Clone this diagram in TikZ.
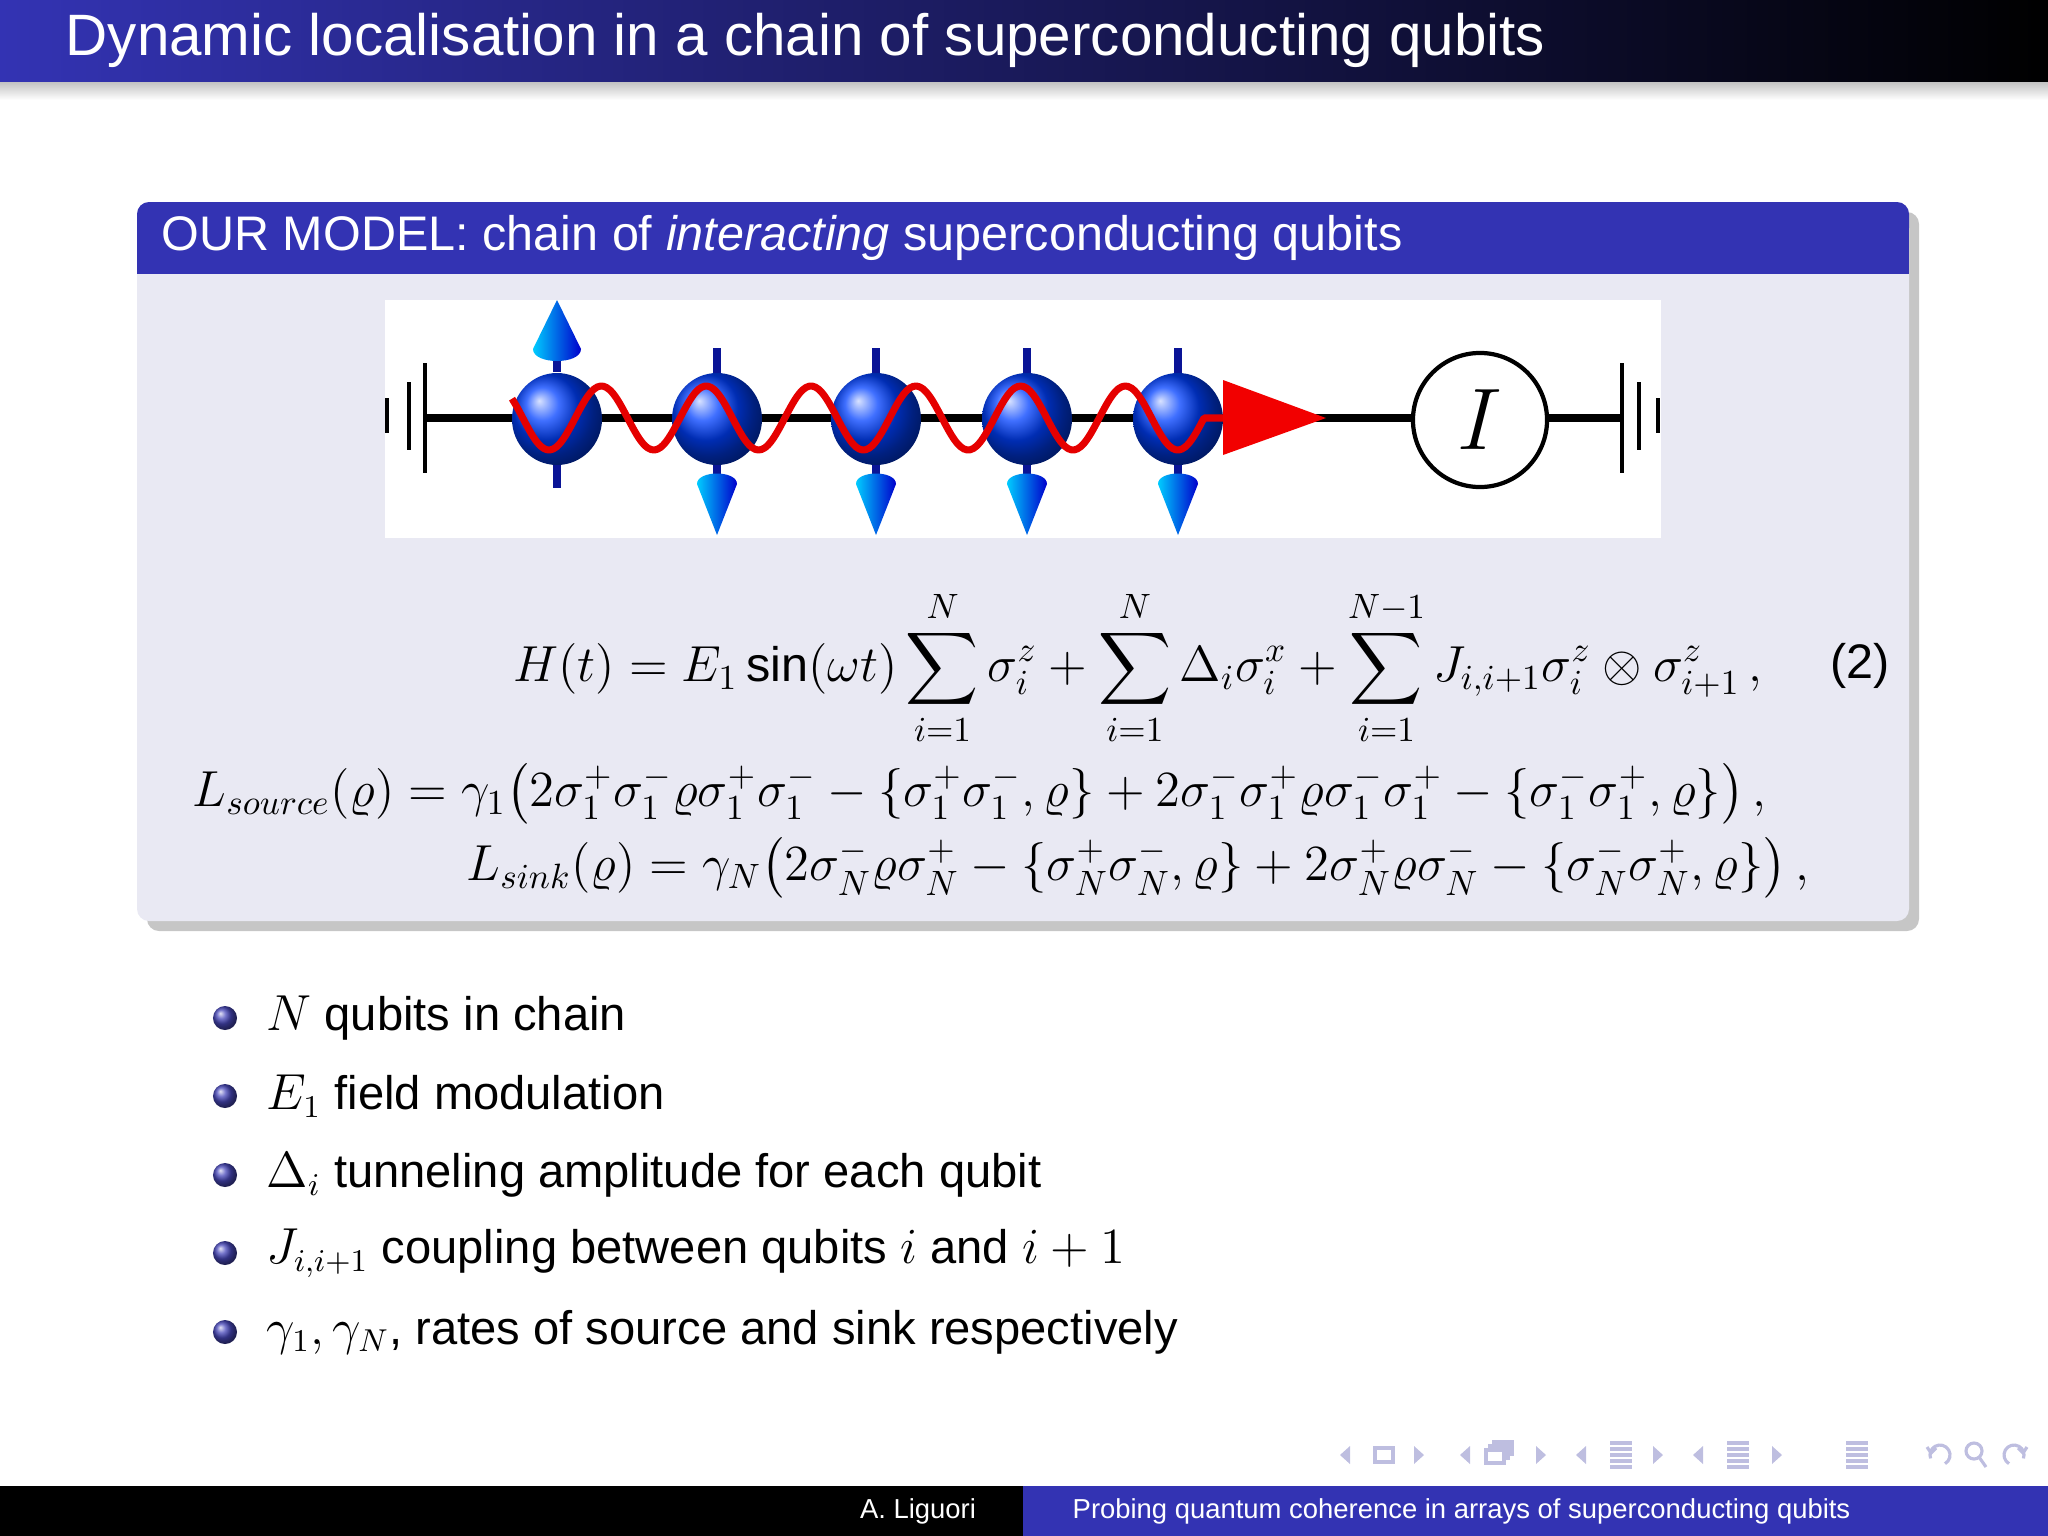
\documentclass[tikz,border=0pt]{standalone}
\usepackage{fontspec}
\setmainfont{Liberation Sans}
\setsansfont{Liberation Sans}
\usepackage{amsmath}
\usetikzlibrary{shadings}
\definecolor{bblue}{RGB}{51,51,179}
\definecolor{blkbody}{RGB}{233,233,243}
\definecolor{navc}{RGB}{190,190,224}
\definecolor{stubc}{RGB}{10,20,150}
\begin{document}
\begin{tikzpicture}[x=0.01cm,y=-0.01cm,
  txt/.style={inner sep=0,font=\fontsize{13.8}{17}\selectfont},
  bul/.style={circle,inner sep=0,minimum size=2.4mm,ball color=bblue!90!white},
  sph/.style={ball color=blue!75!cyan},
  cone/.style={left color=cyan!80!blue,right color=blue!80!black,draw=none},
  stub/.style={fill=stubc,draw=none},
  nav/.style={draw=navc,line width=0.9pt}]
\useasboundingbox (0,0) rectangle (2048,1536);
% title bar
\shade[top color=gray!50,bottom color=white] (0,81) rectangle (2048,100);
\shade[left color=bblue,right color=black] (0,0) rectangle (2048,81);
\node[anchor=west,white,inner sep=0,font=\fontsize{16.6}{20}\selectfont] (title) at (65,40) {Dynamic localisation in a chain of superconducting qubits};
% block
\fill[gray!45,rounded corners=1.2mm] (147,212) rectangle (1919,931);
\fill[blkbody,rounded corners=1.2mm] (137,202) rectangle (1909,921);
\fill[bblue,rounded corners=1.2mm] (137,202) rectangle (1909,240);
\fill[bblue] (137,225) rectangle (1909,274);
\node[anchor=west,white,txt] (btitle) at (161,238) {OUR MODEL: chain of \textit{interacting} superconducting qubits};
% figure
\fill[white] (385,300) rectangle (1661,538);
\draw[line width=2.4pt] (425,418) -- (1480,418);
\draw[line width=2.4pt] (1547,418) -- (1622,418);
\draw[line width=1pt] (387,398) -- (387,433);
\draw[line width=1pt] (409,382) -- (409,450);
\draw[line width=1.1pt] (425,363) -- (425,473);
\draw[line width=1.1pt] (1622,363) -- (1622,473);
\draw[line width=1pt] (1639,382) -- (1639,450);
\draw[line width=1pt] (1658,398) -- (1658,433);
\node[circle,draw,line width=1.2pt,fill=white,minimum size=13.4mm,inner sep=0] (meter) at (1480,420) {\fontsize{38}{40}\selectfont$I$};
% qubit 1 (up)
\fill[stub] (553,356) rectangle (561,372);
\fill[stub] (553,464) rectangle (561,488);
\shade[cone] (557,300) -- (581,349) .. controls (581,365) and (533,365) .. (533,349) -- cycle;
\shade[sph] (557,419) ellipse (45 and 46);
\foreach \cx in {717,876,1027,1178}{
  \fill[stub] (\cx-4,348) rectangle (\cx+4,374);
  \fill[stub] (\cx-4,462) rectangle (\cx+4,480);
  \shade[cone] (\cx,535) -- (\cx+20,484) .. controls (\cx+20,470) and (\cx-20,470) .. (\cx-20,484) -- cycle;
  \shade[sph] (\cx,419) ellipse (45 and 46);
}
\draw[red!90!black,line width=2pt,line join=round] plot[domain=512:1204,samples=220,smooth] (\x,{418+32*cos(3.4351*(\x-549))}) -- (1226,418);
\fill[red!95!black] (1223,380) -- (1326,418) -- (1223,455) -- cycle;
% equations
\node[anchor=west,txt] (eqH) at (513,668) {$\displaystyle H(t) = E_1 \sin(\omega t)\sum_{i=1}^{N}\sigma_i^z + \sum_{i=1}^{N}\Delta_i\sigma_i^x + \sum_{i=1}^{N-1} J_{i,i+1}\sigma_i^z\otimes\sigma_{i+1}^z\,,$};
\node[txt] (eqnum) at (1860,666) {(2)};
\node[anchor=west,txt] (eqS) at (192,794) {$L_{source}(\varrho) = \gamma_1\big(2\sigma_1^+\sigma_1^-\varrho\sigma_1^+\sigma_1^- - \{\sigma_1^+\sigma_1^-,\varrho\} + 2\sigma_1^-\sigma_1^+\varrho\sigma_1^-\sigma_1^+ - \{\sigma_1^-\sigma_1^+,\varrho\}\big)\,,$};
\node[anchor=west,txt] (eqK) at (466,868) {$L_{sink}(\varrho) = \gamma_N\big(2\sigma_N^-\varrho\sigma_N^+ - \{\sigma_N^+\sigma_N^-,\varrho\} + 2\sigma_N^+\varrho\sigma_N^- - \{\sigma_N^-\sigma_N^+,\varrho\}\big)\,,$};
% bullets
\foreach \y/\t [count=\k] in {1018/{$N$ qubits in chain},1096/{$E_1$ field modulation},1175/{$\Delta_i$ tunneling amplitude for each qubit},1253/{$J_{i,i+1}$ coupling between qubits $i$ and $i+1$},1332/{$\gamma_1,\gamma_N$, rates of source and sink respectively}}{
  \node[bul] (b\k) at (225,\y) {};
  \node[anchor=west,inner sep=0,font=\fontsize{13.4}{16}\selectfont] (t\k) at (266,\y) {\t};
}
% nav symbols
\foreach \tx/\d in {1345/-1,1419/1,1465/-1,1541/1,1581/-1,1658/1,1698/-1,1777/1}{
  \fill[navc] (\tx-\d*5,1446) -- (\tx+\d*5,1455) -- (\tx-\d*5,1464) -- cycle;}
\draw[nav] (1375,1448) rectangle (1393,1462);
\draw[nav,fill=white] (1494,1442) rectangle (1512,1454);
\draw[nav,fill=white] (1490,1446) rectangle (1508,1458);
\draw[nav,fill=white] (1486,1450) rectangle (1504,1463);
\foreach \lx in {1610,1727,1846}{
  \foreach \yy in {1443,1449,1455,1461,1467}{\draw[nav] (\lx,\yy) -- (\lx+22,\yy);}}
\draw[nav] ([shift={(60:10)}]1940,1455) arc (60:-200:10);
\draw[nav] (1927,1447) -- (1931,1453) -- (1936,1448);
\draw[nav] (1974,1451) circle (8) (1979,1457) -- (1986,1467);
\draw[nav] ([shift={(120:10)}]2014,1455) arc (120:380:10);
\draw[nav] (2027,1447) -- (2023,1453) -- (2018,1448);
% footer
\fill[black] (0,1486) rectangle (1023,1536);
\fill[bblue] (1023,1486) rectangle (2048,1536);
\node[white,inner sep=0,font=\fontsize{7.8}{10}\selectfont] (auth) at (918,1511) {A. Liguori};
\node[white,inner sep=0,anchor=west,font=\fontsize{7.8}{10}\selectfont] (ftitle) at (1072,1511) {Probing quantum coherence in arrays of superconducting qubits};
\end{tikzpicture}
\end{document}
